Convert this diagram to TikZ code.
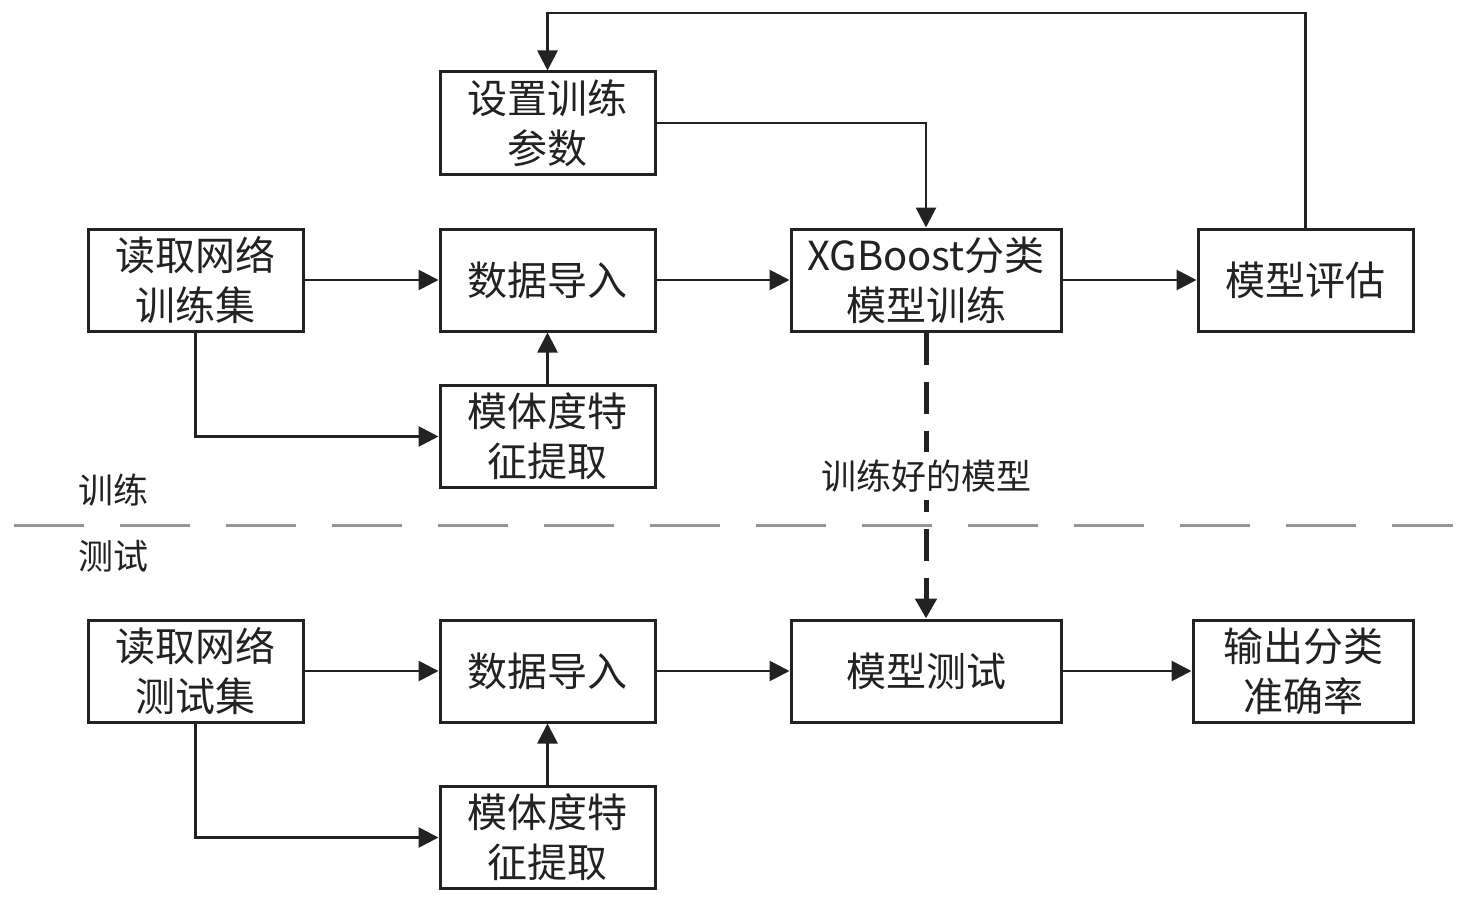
\documentclass[tikz,border=0pt]{standalone}
\usepackage{fontspec}
\setmainfont{Noto Sans CJK SC}
\usetikzlibrary{arrows.meta}
\definecolor{ink}{RGB}{34,34,34}
\definecolor{sepgray}{RGB}{150,150,150}
\tikzset{
  box/.style={draw=ink, line width=1.5pt, fill=white, minimum height=51pt, inner sep=2pt,
    align=center, text=ink, font=\fontsize{20}{25}\selectfont},
  arr/.style={draw=ink, line width=1.4pt, -{Triangle[length=10pt,width=10pt]}},
  plain/.style={draw=ink, line width=1.4pt},
  dasharr/.style={draw=ink, line width=2.5pt, dash pattern=on 16pt off 8.5pt,
    -{Triangle[length=10pt,width=10.5pt]}},
  sepline/.style={draw=sepgray, line width=1.5pt, dash pattern=on 35pt off 18pt},
  lbl/.style={text=ink, font=\fontsize{17.5}{21}\selectfont, inner sep=1pt}
}
\begin{document}
\begin{tikzpicture}[x=0.5pt,y=-0.5pt]
\useasboundingbox (0,0) rectangle (1467,904);
% separator
\draw[sepline] (14,525) -- (1453,525);
\node[lbl] (lTrain) at (113,490) {训练};
\node[lbl] (lTest) at (113,556) {测试};
% training row
\node[box, minimum width=107.5pt] (set) at (547.5,123) {设置训练\\参数};
\node[box, minimum width=107.5pt] (readTr) at (195.5,280) {读取网络\\训练集};
\node[box, minimum width=107.5pt] (dataTr) at (547.5,280) {数据导入};
\node[box, minimum width=135pt] (xgb) at (926,280) {XGBoost分类\\模型训练};
\node[box, minimum width=107.5pt] (eval) at (1305.5,280) {模型评估};
\node[box, minimum width=107.5pt] (motTr) at (547.5,436.5) {模体度特\\征提取};
% testing row
\node[box, minimum width=107.5pt] (readTe) at (195.5,671) {读取网络\\测试集};
\node[box, minimum width=107.5pt] (dataTe) at (547.5,671) {数据导入};
\node[box, minimum width=135pt] (test) at (926,671) {模型测试};
\node[box, minimum width=110pt] (out) at (1303,671) {输出分类\\准确率};
\node[box, minimum width=107.5pt] (motTe) at (547.5,837.5) {模体度特\\征提取};
\coordinate (topline) at (0,13);
% training connectors
\draw[arr] (eval.north) -- (eval.north |- topline) -| (set.north);
\draw[arr] (set.east) -| (xgb.north);
\draw[arr] (readTr) -- (dataTr);
\draw[arr] (dataTr) -- (xgb);
\draw[arr] (xgb) -- (eval);
\draw[arr] (readTr.south) |- (motTr.west);
\draw[arr] (motTr) -- (dataTr);
% testing connectors
\draw[arr] (readTe) -- (dataTe);
\draw[arr] (dataTe) -- (test);
\draw[arr] (test) -- (out);
\draw[arr] (readTe.south) |- (motTe.west);
\draw[arr] (motTe) -- (dataTe);
% trained model
\draw[dasharr] (xgb.south) -- (test.north);
\node[lbl, fill=white, inner ysep=4pt] (trained) at (926,476) {训练好的模型};
\end{tikzpicture}
\end{document}
